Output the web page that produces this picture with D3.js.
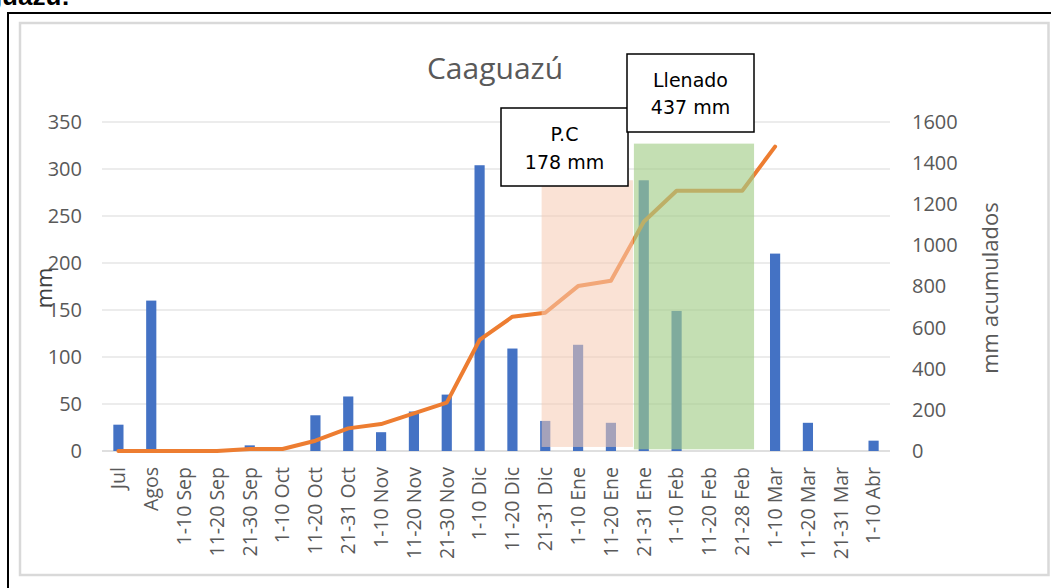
<!DOCTYPE html>
<html>
<head>
<meta charset="utf-8">
<script src="https://cdn.jsdelivr.net/npm/d3@7"></script>
<style>
  html, body { margin: 0; padding: 0; background: #fff; }
  svg { display: block; }
</style>
</head>
<body>
<svg id="chart" width="1051" height="588"></svg>
<script>
// ---- data ----
const categories = ["Jul","Agos","1-10 Sep","11-20 Sep","21-30 Sep","1-10 Oct","11-20 Oct","21-31 Oct",
  "1-10 Nov","11-20 Nov","21-30 Nov","1-10 Dic","11-20 Dic","21-31 Dic","1-10 Ene","11-20 Ene",
  "21-31 Ene","1-10 Feb","11-20 Feb","21-28 Feb","1-10 Mar","11-20 Mar","21-31 Mar","1-10 Abr"];
const rainfall = [28,160,0,0,6,0,38,58,20,42,60,304,109,32,113,30,288,149,0,0,210,30,0,11];
const accumulated = [0,0,0,0,10,10,50,110,131,183,235,540,653,672,802,828,1115,1266,1266,1266,1480];
const leftTicks = [0,50,100,150,200,250,300,350];
const rightTicks = [0,200,400,600,800,1000,1200,1400,1600];
const title = "Caaguazú";
const periods = [
  { name: "P.C", label: "178 mm", from: 13.39, to: 16.17, top: 288, bottom: 4.3 },
  { name: "Llenado", label: "437 mm", from: 16.2, to: 19.86, top: 327, bottom: 1.8 }
];

// ---- layout ----
const svg = d3.select("#chart");
const W = 1051, H = 588;
const plot = { left: 102, right: 890, top: 122, bottom: 451 };
const font = "'Open Sans', sans-serif";
const grey = "#595959";

// frames
svg.append("text").attr("x", 70).attr("y", 5).attr("text-anchor", "end")
  .attr("font-family", "'Liberation Sans', Arial, sans-serif").attr("font-size", 26)
  .attr("font-weight", "bold").attr("fill", "#000").text("Caaguazú:");
svg.append("rect").attr("x", 8).attr("y", 13).attr("width", W + 20).attr("height", H + 20)
  .attr("fill", "none").attr("stroke", "#000").attr("stroke-width", 2);
svg.append("rect").attr("x", 20).attr("y", 23).attr("width", 1028.5).attr("height", 552)
  .attr("fill", "#fff").attr("stroke", "#d9d9d9").attr("stroke-width", 2.5);

// scales
const x = d3.scaleBand().domain(categories).range([plot.left, plot.right]).paddingInner(0.69).paddingOuter(0.345);
const xi = d3.scaleLinear().domain([0, categories.length]).range([plot.left, plot.right]);
const yL = d3.scaleLinear().domain([0, 350]).range([plot.bottom, plot.top]);
const yR = d3.scaleLinear().domain([0, 1600]).range([plot.bottom, plot.top]);

// gridlines
svg.append("g").selectAll("line").data(leftTicks.slice(1)).join("line")
  .attr("x1", plot.left).attr("x2", plot.right)
  .attr("y1", d => yL(d)).attr("y2", d => yL(d))
  .attr("stroke", "#d9d9d9").attr("stroke-width", 1);
svg.append("line").attr("x1", plot.left).attr("x2", plot.right)
  .attr("y1", yL(0)).attr("y2", yL(0)).attr("stroke", "#bfbfbf").attr("stroke-width", 1);

// left axis
const axL = svg.append("g").attr("transform", `translate(${plot.left},0)`)
  .call(d3.axisLeft(yL).tickValues(leftTicks).tickFormat(d3.format("d")).tickSize(0).tickPadding(20));
axL.select(".domain").remove();
axL.selectAll("text").attr("font-family", font).attr("font-size", 20).attr("fill", grey);

// right axis
const axR = svg.append("g").attr("transform", `translate(${plot.right},0)`)
  .call(d3.axisRight(yR).tickValues(rightTicks).tickFormat(d3.format("d")).tickSize(0).tickPadding(22));
axR.select(".domain").remove();
axR.selectAll("text").attr("font-family", font).attr("font-size", 20).attr("fill", grey);

// x axis labels
const axX = svg.append("g").attr("transform", `translate(0,${plot.bottom})`)
  .call(d3.axisBottom(x).tickSize(0).tickPadding(0));
axX.select(".domain").remove();
axX.selectAll("text")
  .attr("font-family", font).attr("font-size", 19.5).attr("fill", grey)
  .attr("text-anchor", "end")
  .attr("transform", "rotate(-90)")
  .attr("x", -16).attr("y", 0).attr("dy", "0.35em");

// axis titles
svg.append("text").attr("transform", `translate(${plot.left - 58},${288}) rotate(-90)`)
  .attr("text-anchor", "middle").attr("dy", "0.35em")
  .attr("font-family", font).attr("font-size", 22).attr("fill", "#404040").text("mm");
svg.append("text").attr("transform", `translate(${plot.right + 100},${288}) rotate(-90)`)
  .attr("text-anchor", "middle").attr("dy", "0.35em")
  .attr("font-family", font).attr("font-size", 22).attr("fill", grey).text("mm acumulados");

// title
svg.append("text").attr("x", 495).attr("y", 79).attr("text-anchor", "middle")
  .attr("font-family", font).attr("font-size", 30).attr("fill", grey).text(title);

// bars
svg.append("g").selectAll("rect").data(rainfall).join("rect")
  .attr("x", (d, i) => x(categories[i]))
  .attr("width", x.bandwidth())
  .attr("y", d => yL(d))
  .attr("height", d => yL(0) - yL(d))
  .attr("fill", "#4472c4");

// cumulative line
const line = d3.line().x((d, i) => x(categories[i]) + x.bandwidth() / 2).y(d => yR(d));
svg.append("path").datum(accumulated).attr("d", line)
  .attr("fill", "none").attr("stroke", "#ed7d31").attr("stroke-width", 4)
  .attr("stroke-linejoin", "round").attr("stroke-linecap", "round");

// shaded periods
const shadeColors = [{ fill: "rgb(246,202,178)", op: 0.55 }, { fill: "rgb(162,205,135)", op: 0.63 }];
periods.forEach((p, i) => {
  svg.append("rect")
    .attr("x", xi(p.from)).attr("width", xi(p.to) - xi(p.from))
    .attr("y", yL(p.top)).attr("height", yL(p.bottom) - yL(p.top))
    .attr("fill", shadeColors[i].fill).attr("fill-opacity", shadeColors[i].op);
});

// label boxes
const boxes = [
  { x0: 501, y0: 108, x1: 628, y1: 186, lines: [periods[0].name, periods[0].label], b1: 141, b2: 169 },
  { x0: 627, y0: 54, x1: 754, y1: 132, lines: [periods[1].name, periods[1].label], b1: 87, b2: 114 }
];
const boxFont = "'DejaVu Sans', Verdana, sans-serif";
boxes.forEach(b => {
  svg.append("rect").attr("x", b.x0).attr("y", b.y0).attr("width", b.x1 - b.x0).attr("height", b.y1 - b.y0)
    .attr("fill", "#fff").attr("stroke", "#000").attr("stroke-width", 1.5);
  const cx = (b.x0 + b.x1) / 2;
  svg.append("text").attr("x", cx).attr("y", b.b1).attr("text-anchor", "middle")
    .attr("font-family", boxFont).attr("font-size", 19).attr("fill", "#000").text(b.lines[0]);
  svg.append("text").attr("x", cx).attr("y", b.b2).attr("text-anchor", "middle")
    .attr("font-family", boxFont).attr("font-size", 19).attr("fill", "#000").text(b.lines[1]);
});
</script>
</body>
</html>
